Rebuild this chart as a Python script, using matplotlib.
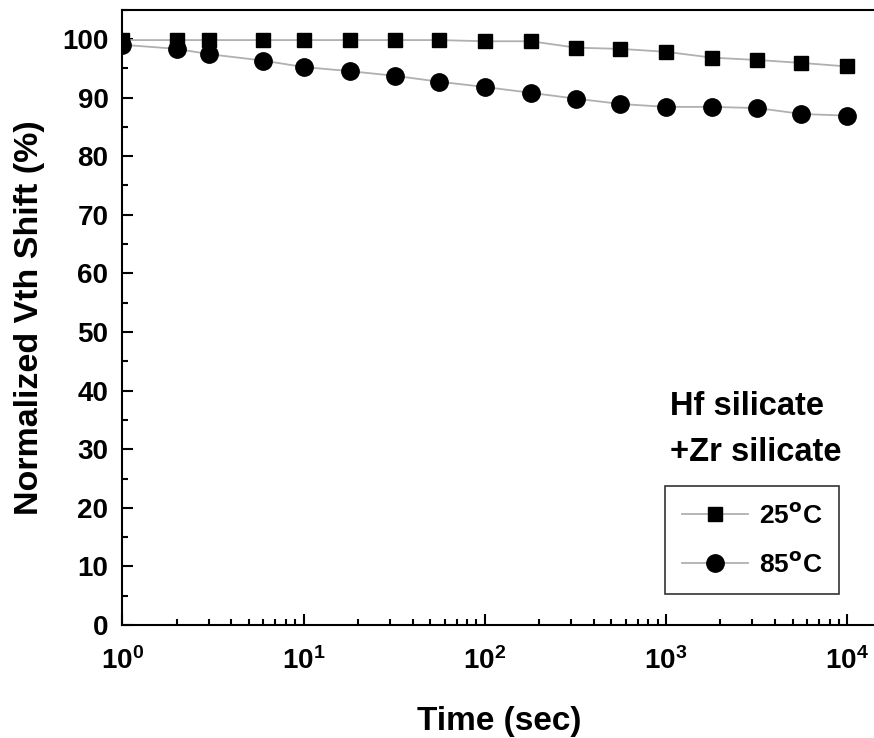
import numpy as np
import matplotlib.pyplot as plt
from matplotlib.ticker import MultipleLocator, LogLocator, NullFormatter

plt.rcParams['font.family'] = ['Liberation Sans', 'DejaVu Sans']
plt.rcParams['font.weight'] = 'bold'
plt.rcParams['mathtext.default'] = 'bf'

# stress time (sec) and normalized Vth shift (%)
time_sec = [1, 2, 3, 6, 10, 18, 32, 56, 100, 180, 320, 560,
            1000, 1800, 3200, 5600, 10000]
shift_25C = [99.8, 99.8, 99.8, 99.8, 99.8, 99.8, 99.8, 99.8, 99.6, 99.6,
             98.5, 98.3, 97.8, 96.8, 96.4, 95.9, 95.3]
shift_85C = [99.0, 98.3, 97.4, 96.3, 95.2, 94.5, 93.7, 92.7, 91.8, 90.8,
             89.8, 88.9, 88.4, 88.4, 88.2, 87.2, 86.9]

fig = plt.figure(figsize=(8.74, 7.38), dpi=100)
ax = fig.add_axes([0.14, 0.153, 0.863, 0.834])

ax.plot(time_sec, shift_25C, color='#b0b0b0', lw=1.3, marker='s', ms=10.5,
        mfc='black', mec='black', label=r'25$^{\mathrm{o}}$C')
ax.plot(time_sec, shift_85C, color='#b0b0b0', lw=1.3, marker='o', ms=12.5,
        mfc='black', mec='black', label=r'85$^{\mathrm{o}}$C')

ax.set_xscale('log')
ax.set_xlim(1, 10 ** 4.163)
ax.set_ylim(0, 105)
ax.yaxis.set_major_locator(MultipleLocator(10))
ax.yaxis.set_minor_locator(MultipleLocator(5))
ax.xaxis.set_major_locator(LogLocator(base=10, numticks=10))
ax.xaxis.set_minor_locator(LogLocator(base=10, subs=np.arange(2, 10), numticks=20))
ax.xaxis.set_minor_formatter(NullFormatter())

ax.tick_params(which='both', direction='in', width=1.5, labelsize=20)
ax.tick_params(which='major', length=8)
ax.tick_params(which='minor', length=4)
ax.tick_params(axis='x', pad=16)
ax.tick_params(axis='y', pad=10)
for lab in ax.get_xticklabels() + ax.get_yticklabels():
    lab.set_fontweight('bold')
for sp in ax.spines.values():
    sp.set_linewidth(1.5)

ax.set_xlabel('Time (sec)', fontsize=24, fontweight='bold', labelpad=22)
ax.set_ylabel('Normalized Vth Shift (%)', fontsize=24.5, fontweight='bold', labelpad=12)

ax.text(0.726, 0.3415, 'Hf silicate', transform=ax.transAxes,
        fontsize=23.5, fontweight='bold', ha='left', va='baseline')
ax.text(0.726, 0.266, '+Zr silicate', transform=ax.transAxes,
        fontsize=23.5, fontweight='bold', ha='left', va='baseline')

leg = ax.legend(loc='upper left', bbox_to_anchor=(0.7195, 0.226), fontsize=19,
                frameon=True, fancybox=False, edgecolor='black',
                handlelength=2.5, handletextpad=0.4, borderpad=0.65,
                labelspacing=0.9, borderaxespad=0)
leg.get_frame().set_linewidth(1.2)

fig.savefig('out.png', dpi=100)
